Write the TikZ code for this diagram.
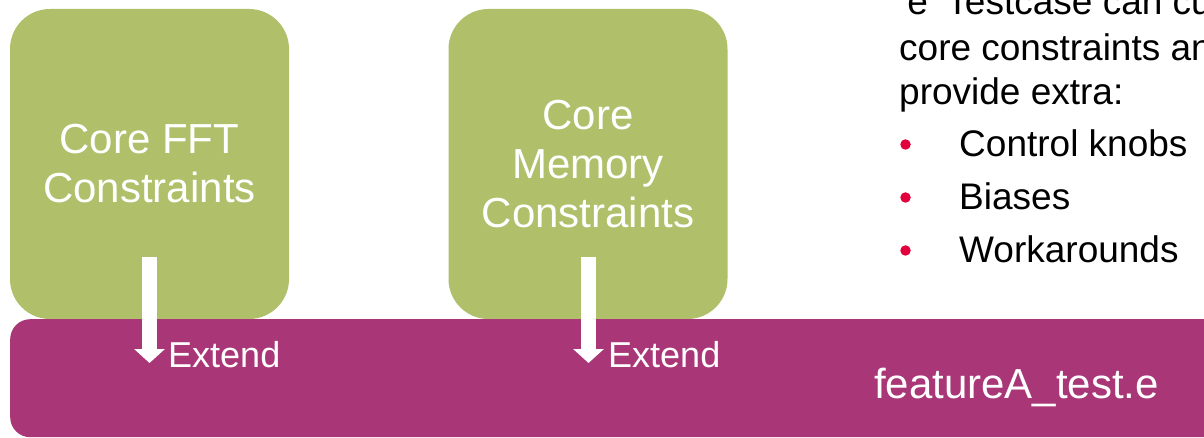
\documentclass[tikz,border=0pt]{standalone}
\usepackage{fontspec}
\setmainfont{Liberation Sans}
\usetikzlibrary{arrows.meta}
\definecolor{boxgreen}{RGB}{175,191,106}
\definecolor{barmag}{RGB}{169,54,119}
\definecolor{bulred}{RGB}{226,0,60}
\tikzset{
  greenbox/.style={fill=boxgreen, draw=none, rounded corners=40pt, minimum width=279pt, minimum height=310pt, inner sep=0pt, text=white, align=center, font=\fontsize{42}{49}\selectfont},
  magbar/.style={fill=barmag, draw=none, rounded corners=20pt, minimum width=1230pt, minimum height=118pt, inner sep=0pt},
  bartext/.style={text=white, inner sep=0pt, font=\fontsize{42}{49}\selectfont},
  extlabel/.style={text=white, inner sep=0pt, anchor=base west, font=\fontsize{36}{42}\selectfont},
  bodytext/.style={text=black, inner sep=0pt, anchor=base west, font=\fontsize{37}{44}\selectfont},
  bulletdot/.style={circle, fill=bulred, draw=none, minimum size=10.5pt, inner sep=0pt},
  extarrow/.style={draw=white, line width=15pt, -{Triangle[width=30pt,length=14pt]}}
}
\begin{document}
\begin{tikzpicture}[x=1pt,y=-1pt]
\useasboundingbox (0,0) rectangle (1204,438);
\clip (0,0) rectangle (1204,438);
% green boxes
\node[greenbox] (fft) at (149.5,164) {Core FFT\\Constraints};
\node[greenbox] (mem) at (588,164) {Core\\Memory\\Constraints};
% magenta bar
\node[magbar, anchor=north west] (bar) at (10,319) {};
\node[bartext, anchor=base] (feat) at (1016.5,398) {featureA\_test.e};
% arrows
\coordinate (a1s) at (149.5,257);
\coordinate (a1e) at (149.5,363);
\coordinate (a2s) at (588.5,257);
\coordinate (a2e) at (588.5,363);
\draw[extarrow] (a1s) -- (a1e);
\draw[extarrow] (a2s) -- (a2e);
\node[extlabel] (ext1) at (168,367) {Extend};
\node[extlabel] (ext2) at (608,367) {Extend};
% right text
\node[bodytext] (l1) at (899,15) {‘e’ Testcase can customize};
\node[bodytext] (l2) at (899,61) {core constraints and};
\node[bodytext] (l3) at (899,105) {provide extra:};
\node[bulletdot] (b1) at (905.5,144.5) {};
\node[bulletdot] (b2) at (905.5,197.5) {};
\node[bulletdot] (b3) at (905.5,250.5) {};
\node[bodytext] (i1) at (959,157) {Control knobs};
\node[bodytext] (i2) at (959,210) {Biases};
\node[bodytext] (i3) at (959,263) {Workarounds};
\end{tikzpicture}
\end{document}
